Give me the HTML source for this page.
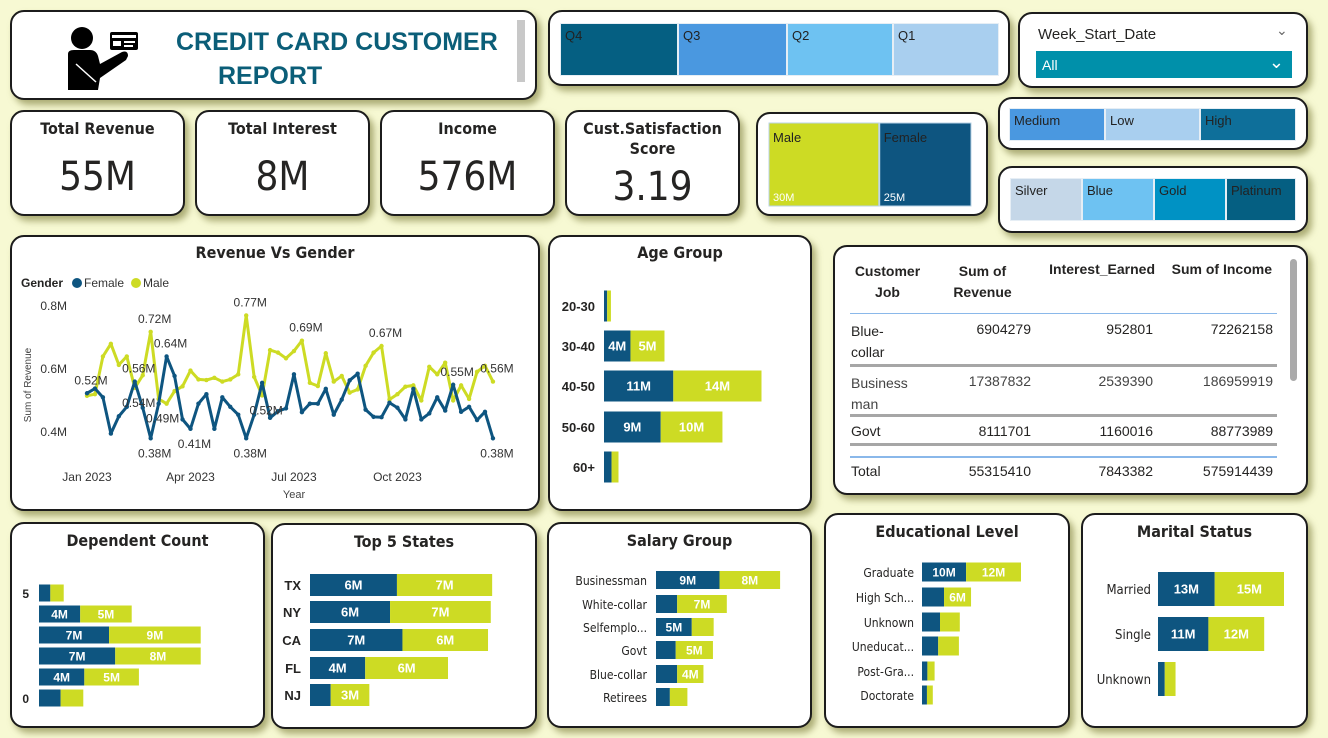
<!DOCTYPE html>
<html><head><meta charset="utf-8"><style>
*{box-sizing:border-box;margin:0;padding:0}
body{width:1328px;height:738px;background:#f7f9d3;position:relative;overflow:hidden;font-family:"Liberation Sans",sans-serif;color:#252423}
.card{position:absolute;background:#fff;border:2px solid #1c1c1c;border-radius:14px;box-shadow:4px 5px 7px rgba(110,110,40,.55)}
.ttl{position:absolute;left:0;right:0;text-align:center;font-family:"DejaVu Sans Condensed","DejaVu Sans",sans-serif;font-weight:bold;font-size:16px;color:#252423}
.kv{position:absolute;left:0;right:0;text-align:center;font-family:"DejaVu Sans Condensed","DejaVu Sans",sans-serif;font-size:40px;color:#252423}
.tile{position:absolute;font-size:13px;padding:4px 4px;color:#222;border:1px solid #e6eef5}
#ov{position:absolute;left:0;top:0;pointer-events:none}
.tb{position:absolute;font-size:14px}
</style></head><body>

<div class="card" style="left:10px;top:10px;width:527px;height:90px">
 <svg style="position:absolute;left:48px;top:12px" width="82" height="66" viewBox="0 0 82 66">
  <circle cx="22" cy="14" r="11" fill="#000"/>
  <path d="M8 30 Q8 26 14 26 L30 26 Q36 26 38 32 L40 40 L62 28 Q68 26 68 32 L66 36 L40 54 L38 66 L8 66 Z" fill="#000"/>
  <line x1="16" y1="40" x2="36" y2="58" stroke="#fff" stroke-width="1.5"/>
  <rect x="50" y="8" width="28" height="18" rx="2" fill="#000"/>
  <rect x="52" y="11" width="24" height="3" fill="#fff"/>
  <rect x="53" y="17" width="8" height="5" fill="#fff"/>
  <rect x="64" y="17" width="11" height="2" fill="#fff"/>
  <rect x="64" y="21" width="9" height="2" fill="#fff"/>
 </svg>
 <div style="position:absolute;left:164px;top:13px;font-size:25px;font-weight:bold;color:#0b5e78;line-height:34px;white-space:nowrap">CREDIT CARD CUSTOMER<br><span style="padding-left:42px">REPORT</span></div>
 <div style="position:absolute;left:505px;top:8px;width:8px;height:62px;background:#c8c8c8"></div>
</div>

<div class="card" style="left:548px;top:10px;width:462px;height:76px">
 <div class="tile" style="left:10px;top:11px;width:118px;height:53px;background:#055f82">Q4</div>
 <div class="tile" style="left:128px;top:11px;width:109px;height:53px;background:#4a98e0">Q3</div>
 <div class="tile" style="left:237px;top:11px;width:106px;height:53px;background:#6ec2f2">Q2</div>
 <div class="tile" style="left:343px;top:11px;width:106px;height:53px;background:#a9cfef">Q1</div>
</div>

<div class="card" style="left:1018px;top:12px;width:290px;height:76px">
 <div style="position:absolute;left:18px;top:12px;font-size:15px">Week_Start_Date</div>
 <div style="position:absolute;left:256px;top:8px;font-size:14px;color:#666">&#8964;</div>
 <div style="position:absolute;left:16px;top:37px;width:256px;height:27px;background:#0090aa;color:#fff;font-size:14px;padding:6px 6px">All<span style="position:absolute;right:8px;top:1px;font-size:18px">&#8964;</span></div>
</div>

<div class="card" style="left:10px;top:110px;width:175px;height:106px"><div class="ttl" style="top:7px">Total Revenue</div><div class="kv" style="top:42px">55M</div></div>
<div class="card" style="left:195px;top:110px;width:175px;height:106px"><div class="ttl" style="top:7px">Total Interest</div><div class="kv" style="top:42px">8M</div></div>
<div class="card" style="left:380px;top:110px;width:175px;height:106px"><div class="ttl" style="top:7px">Income</div><div class="kv" style="top:42px">576M</div></div>
<div class="card" style="left:565px;top:110px;width:175px;height:106px"><div class="ttl" style="top:7px;line-height:20px">Cust.Satisfaction<br>Score</div><div class="kv" style="top:52px">3.19</div></div>

<div class="card" style="left:756px;top:112px;width:232px;height:104px"></div>

<div class="card" style="left:998px;top:97px;width:310px;height:53px">
 <div class="tile" style="left:9px;top:9px;width:96px;height:33px;background:#4a98e0">Medium</div>
 <div class="tile" style="left:105px;top:9px;width:95px;height:33px;background:#a9cfef">Low</div>
 <div class="tile" style="left:200px;top:9px;width:96px;height:33px;background:#0e6f9a">High</div>
</div>
<div class="card" style="left:998px;top:166px;width:310px;height:67px">
 <div class="tile" style="left:10px;top:10px;width:72px;height:43px;background:#c5d7e8">Silver</div>
 <div class="tile" style="left:82px;top:10px;width:72px;height:43px;background:#6ec2f2">Blue</div>
 <div class="tile" style="left:154px;top:10px;width:72px;height:43px;background:#0092c4">Gold</div>
 <div class="tile" style="left:226px;top:10px;width:70px;height:43px;background:#055f82">Platinum</div>
</div>

<div class="card" style="left:10px;top:235px;width:530px;height:276px"><div class="ttl" style="top:6px">Revenue Vs Gender</div></div>
<div class="card" style="left:548px;top:235px;width:264px;height:276px"><div class="ttl" style="top:6px">Age Group</div></div>

<div class="card" style="left:833px;top:245px;width:475px;height:250px">
 <div class="tb" style="left:10px;top:14px;width:85px;text-align:center;font-weight:bold;line-height:21px">Customer<br>Job</div>
 <div class="tb" style="left:100px;top:14px;width:95px;text-align:center;font-weight:bold;line-height:21px">Sum of<br>Revenue</div>
 <div class="tb" style="left:205px;top:14px;width:115px;text-align:right;font-weight:bold">Interest_Earned</div>
 <div class="tb" style="left:322px;top:14px;width:115px;text-align:right;font-weight:bold">Sum of Income</div>
 <div style="position:absolute;left:15px;top:66px;width:427px;height:1px;background:#8ab8ea"></div>
 <div class="tb" style="left:16px;top:74px;line-height:21px">Blue-<br>collar</div>
 <div class="tb" style="left:100px;top:74px;width:96px;text-align:right">6904279</div>
 <div class="tb" style="left:200px;top:74px;width:118px;text-align:right">952801</div>
 <div class="tb" style="left:320px;top:74px;width:118px;text-align:right">72262158</div>
 <div style="position:absolute;left:15px;top:117px;width:427px;height:3px;background:#a6a6a6"></div>
 <div class="tb" style="left:16px;top:126px;line-height:21px;color:#444">Business<br>man</div>
 <div class="tb" style="left:100px;top:126px;width:96px;text-align:right;color:#444">17387832</div>
 <div class="tb" style="left:200px;top:126px;width:118px;text-align:right;color:#444">2539390</div>
 <div class="tb" style="left:320px;top:126px;width:118px;text-align:right;color:#444">186959919</div>
 <div style="position:absolute;left:15px;top:167px;width:427px;height:3px;background:#a6a6a6"></div>
 <div class="tb" style="left:16px;top:176px">Govt</div>
 <div class="tb" style="left:100px;top:176px;width:96px;text-align:right">8111701</div>
 <div class="tb" style="left:200px;top:176px;width:118px;text-align:right">1160016</div>
 <div class="tb" style="left:320px;top:176px;width:118px;text-align:right">88773989</div>
 <div style="position:absolute;left:15px;top:196px;width:427px;height:3px;background:#a6a6a6"></div>
 <div style="position:absolute;left:15px;top:209px;width:427px;height:2px;background:#8ab8ea"></div>
 <div class="tb" style="left:16px;top:216px">Total</div>
 <div class="tb" style="left:100px;top:216px;width:96px;text-align:right">55315410</div>
 <div class="tb" style="left:200px;top:216px;width:118px;text-align:right">7843382</div>
 <div class="tb" style="left:320px;top:216px;width:118px;text-align:right">575914439</div>
 <div style="position:absolute;left:455px;top:12px;width:7px;height:122px;border-radius:4px;background:#aaa"></div>
</div>

<div class="card" style="left:10px;top:522px;width:255px;height:206px"><div class="ttl" style="top:7px">Dependent Count</div></div>
<div class="card" style="left:271px;top:523px;width:266px;height:206px"><div class="ttl" style="top:7px">Top 5 States</div></div>
<div class="card" style="left:547px;top:522px;width:265px;height:206px"><div class="ttl" style="top:7px">Salary Group</div></div>
<div class="card" style="left:824px;top:513px;width:246px;height:215px"><div class="ttl" style="top:7px">Educational Level</div></div>
<div class="card" style="left:1081px;top:513px;width:227px;height:215px"><div class="ttl" style="top:7px">Marital Status</div></div>

<svg id="ov" width="1328" height="738" xmlns="http://www.w3.org/2000/svg"></svg>

<script>
// ---------- data ----------
const femaleWeekly = [0.523,0.538,0.51,0.395,0.45,0.48,0.56,0.477,0.38,0.49,0.64,0.578,0.44,0.41,0.49,0.52,0.41,0.51,0.48,0.455,0.38,0.455,0.556,0.445,0.466,0.475,0.583,0.463,0.49,0.49,0.537,0.455,0.503,0.564,0.585,0.471,0.448,0.447,0.493,0.477,0.44,0.537,0.44,0.459,0.51,0.468,0.55,0.464,0.48,0.438,0.464,0.38];
const maleWeekly = [0.515,0.52,0.64,0.68,0.613,0.64,0.54,0.58,0.718,0.505,0.49,0.53,0.545,0.595,0.567,0.565,0.572,0.56,0.567,0.583,0.77,0.575,0.516,0.66,0.652,0.634,0.657,0.69,0.556,0.546,0.65,0.56,0.578,0.525,0.535,0.61,0.652,0.673,0.503,0.52,0.544,0.548,0.5,0.607,0.583,0.62,0.5,0.548,0.505,0.591,0.61,0.56];
const lineYTicks = [0.4,0.6,0.8];
const lineXTicks = ["Jan 2023","Apr 2023","Jul 2023","Oct 2023"];
const lineXTickIdx = [0,13,26,39];
// labelled points: series (0 female,1 male), week index
const lineLabelSeries = [0,1,0,0,1,0,0,0,1,0,1,1,1,0,1,0];
const lineLabelIdx =    [0,8,10,6,6,9,13,8,20,20,22,27,37,46,51,51];

const ageCats = ["20-30","30-40","40-50","50-60","60+"];
const ageFemale = [0.5,4.2,11,9.0,1.2];
const ageMale = [0.6,5.4,14,9.8,1.1];

const depCats = ["5","","","","","0"];
const depFemale = [1.1,4.0,6.8,7.4,4.4,2.1];
const depMale = [1.3,5.0,8.9,8.3,5.3,2.2];

const stateCats = ["TX","NY","CA","FL","NJ"];
const stateFemale = [6.3,5.8,6.7,4.0,1.5];
const stateMale = [6.9,7.3,6.2,6.0,2.8];

const salaryCats = ["Businessman","White-collar","Selfemplo...","Govt","Blue-collar","Retirees"];
const salaryFemale = [8.7,2.9,4.9,2.7,2.9,1.9];
const salaryMale = [8.3,6.8,3.0,5.1,3.6,2.4];

const eduCats = ["Graduate","High Sch...","Unknown","Uneducat...","Post-Gra...","Doctorate"];
const eduFemale = [9.8,4.9,4.0,3.6,1.2,1.1];
const eduMale = [12.2,6.0,4.4,4.6,1.6,1.3];

const maritalCats = ["Married","Single","Unknown"];
const maritalFemale = [12.6,11.2,1.5];
const maritalMale = [15.4,12.4,2.4];

const genderCats = ["Male","Female"];
const genderRevenue = [30,25];

// ---------- drawing ----------
const NS="http://www.w3.org/2000/svg";
const svg=document.getElementById('ov');
const NAVY="#0e5580", LIME="#cddb24";
function mk(tag,attrs,parent){const e=document.createElementNS(NS,tag);for(const k in attrs)e.setAttribute(k,attrs[k]);(parent||svg).appendChild(e);return e;}
function txt(x,y,s,attrs,parent){const e=mk('text',Object.assign({x:x,y:y,'font-family':'Liberation Sans, sans-serif'},attrs||{}),parent);e.textContent=s;return e;}

// line chart
const lx0=87, lstep=7.96;
function lx(i){return lx0+i*lstep;}
function ly(v){return 432-(v-0.4)*315;}
const lg=mk('g',{});


lineYTicks.forEach(v=>{const t=txt(67,ly(v)+4,v+'M',{'font-size':12,'text-anchor':'end',fill:'#333'},lg);});
lineXTicks.forEach((s,k)=>{const t=txt(lx(lineXTickIdx[k]),481,s,{'font-size':12,'text-anchor':'middle',fill:'#333'},lg);});
const xt=txt(294,498,'Year',{'font-size':11,'text-anchor':'middle',fill:'#444'},lg);

const yt=txt(0,0,'Sum of Revenue',{'font-size':10,'text-anchor':'middle',fill:'#444',transform:'translate(31,385) rotate(-90)'},lg);

const lgd=mk('g',{},lg);

txt(21,287,'Gender',{'font-size':12,'font-weight':'bold',fill:'#252423'},lgd);
mk('circle',{cx:77,cy:283,r:5,fill:NAVY},lgd);txt(84,287,'Female',{'font-size':12,fill:'#333'},lgd);
mk('circle',{cx:136,cy:283,r:5,fill:LIME},lgd);txt(143,287,'Male',{'font-size':12,fill:'#333'},lgd);
[[maleWeekly,LIME,'male-line'],[femaleWeekly,NAVY,'female-line']].forEach(([arr,col,nm])=>{
  const p=mk('polyline',{points:arr.map((v,i)=>lx(i)+','+ly(v)).join(' '),fill:'none',stroke:col,'stroke-width':3,'stroke-linejoin':'round'},lg);
  
  arr.forEach((v,i)=>{const c=mk('circle',{cx:lx(i),cy:ly(v),r:2.2,fill:col},lg);});
});
lineLabelSeries.forEach((s,k)=>{
  const i=lineLabelIdx[k];const v=(s?maleWeekly:femaleWeekly)[i];
  const other=(s?femaleWeekly:maleWeekly)[i];
  const above=v>=other;
  const t=txt(lx(i)+4,ly(v)+(above?-9:19),v.toFixed(2)+'M',{'font-size':12,'text-anchor':'middle',fill:'#333'},lg);
  
});

// stacked bars
function stacked(name,cats,fem,mal,x0,scale,yc,h,labelX,fontSize,labelBold,labelSize){
  const g=mk('g',{});
  
  cats.forEach((c,i)=>{
    const y=yc[i]-h/2;const wf=fem[i]*scale,wm=mal[i]*scale;
    if(c){const t=txt(labelX,yc[i]+5,c,{'font-size':fontSize,'text-anchor':'end',fill:'#252423','font-weight':labelBold?'bold':'normal','font-family':labelBold?'Liberation Sans, sans-serif':'DejaVu Sans Condensed, sans-serif'},g);}
    const b1=mk('rect',{x:x0,y:y,width:wf,height:h,fill:NAVY},g);
    
    const b2=mk('rect',{x:x0+wf,y:y,width:wm,height:h,fill:LIME},g);
    
    [[fem[i],x0+wf/2,wf],[mal[i],x0+wf+wm/2,wm]].forEach(([v,cx,w])=>{
      if(w>=25){const t=txt(cx,yc[i]+labelSize*0.36,Math.round(v)+'M',{'font-size':labelSize,'font-weight':'bold','text-anchor':'middle',fill:'#fff'},g);}
    });
  });
}
stacked('age-group-chart',ageCats,ageFemale,ageMale,604,6.3,[306,346,386,427,467],31,595,13,true,13);
stacked('dependent-count-chart',depCats,depFemale,depMale,39,10.3,[593,614,635,656,677,698],17,29,12,true,12);
stacked('top5-states-chart',stateCats,stateFemale,stateMale,310,13.8,[585,612,640,668,695],22,301,13,true,13);
stacked('salary-group-chart',salaryCats,salaryFemale,salaryMale,656,7.3,[580,604,627,650,674,697],18,647,12,false,12);
stacked('education-chart',eduCats,eduFemale,eduMale,922,4.5,[572,597,622,646,671,695],19,914,12,false,12);
stacked('marital-chart',maritalCats,maritalFemale,maritalMale,1158,4.5,[589,634,679],34,1151,13,false,13);

// gender treemap
(function(){
  const g=mk('g',{});
  
  const total=genderRevenue.reduce((a,b)=>a+b,0);const W=203;let x=769;
  genderRevenue.forEach((v,i)=>{
    const w=W*v/total;
    const r=mk('rect',{x:x,y:123,width:w-1,height:83,fill:i?NAVY:LIME,stroke:'#b9d3e6','stroke-width':1},g);
    
    txt(x+4,142,genderCats[i],{'font-size':13,fill:'#222'},g);
    txt(x+4,201,v+'M',{'font-size':11,fill:'#fff'},g);
    x+=w;
  });
})();
</script>
</body></html>
